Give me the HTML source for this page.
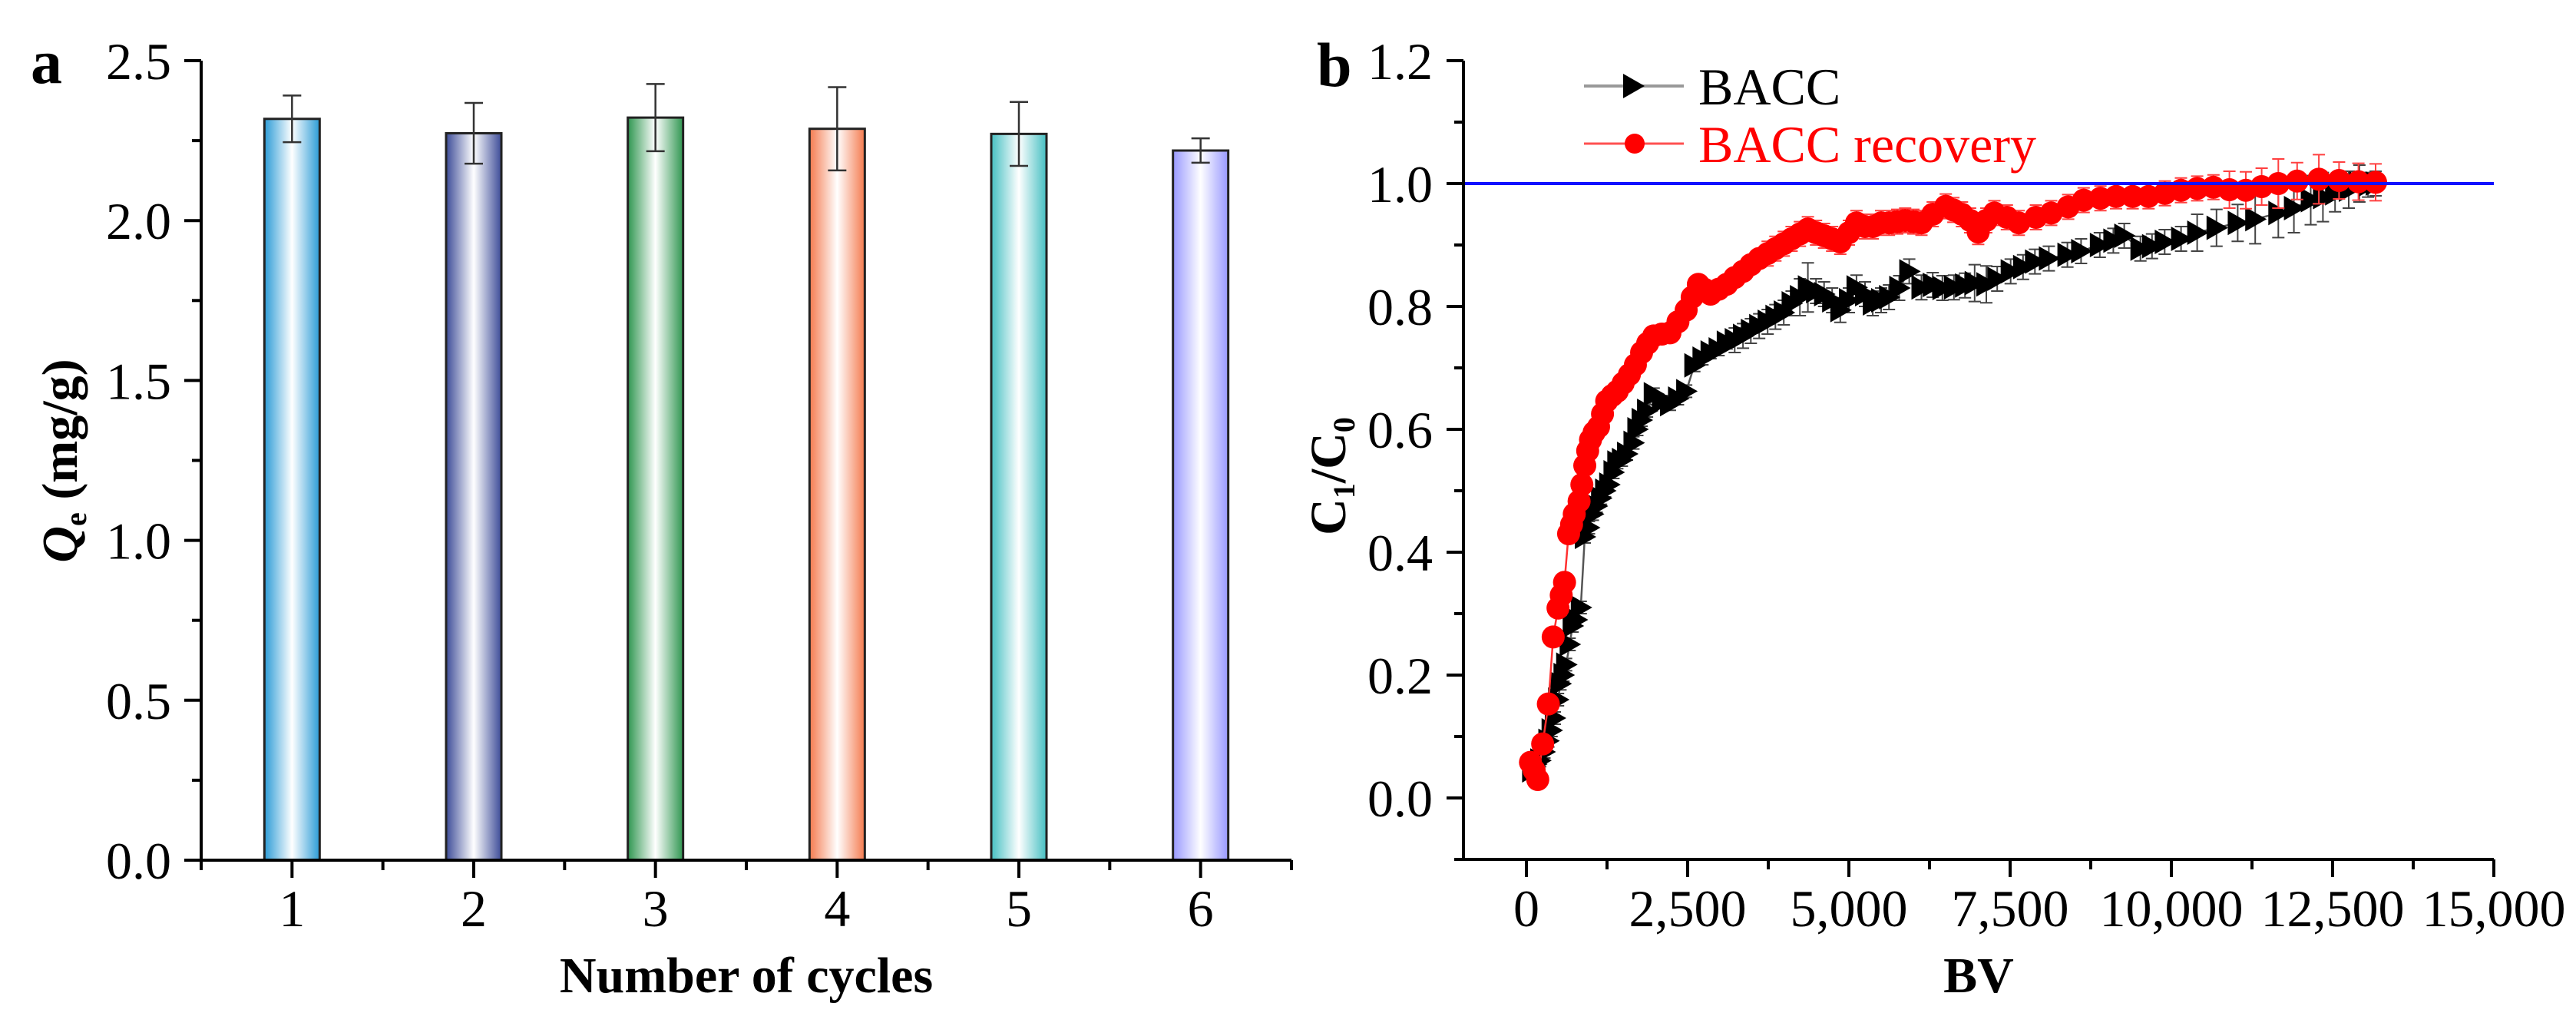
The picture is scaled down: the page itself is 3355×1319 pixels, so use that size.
<!DOCTYPE html>
<html><head><meta charset="utf-8"><style>
html,body{margin:0;padding:0;background:#fff;}
svg{display:block;font-family:"Liberation Serif",serif;}
</style></head><body>
<svg id="fig" width="3355" height="1319" viewBox="0 0 3355 1319" xmlns="http://www.w3.org/2000/svg">
<defs>
<linearGradient id="g1" x1="0" x2="1"><stop offset="0" stop-color="#2b9bd6"/><stop offset="0.5" stop-color="#fff"/><stop offset="1" stop-color="#2b9bd6"/></linearGradient>
<linearGradient id="g2" x1="0" x2="1"><stop offset="0" stop-color="#3d4c98"/><stop offset="0.5" stop-color="#fff"/><stop offset="1" stop-color="#3d4c98"/></linearGradient>
<linearGradient id="g3" x1="0" x2="1"><stop offset="0" stop-color="#2f9650"/><stop offset="0.5" stop-color="#fff"/><stop offset="1" stop-color="#2f9650"/></linearGradient>
<linearGradient id="g4" x1="0" x2="1"><stop offset="0" stop-color="#f47a4e"/><stop offset="0.5" stop-color="#fff"/><stop offset="1" stop-color="#f47a4e"/></linearGradient>
<linearGradient id="g5" x1="0" x2="1"><stop offset="0" stop-color="#45bfc2"/><stop offset="0.5" stop-color="#fff"/><stop offset="1" stop-color="#45bfc2"/></linearGradient>
<linearGradient id="g6" x1="0" x2="1"><stop offset="0" stop-color="#9898ff"/><stop offset="0.5" stop-color="#fff"/><stop offset="1" stop-color="#9898ff"/></linearGradient>
</defs>
<g id="pa"></g>
<g id="pb"></g>
</svg>
<script>
// Panel a data
const cycles = [1, 2, 3, 4, 5, 6];
const qeValues = [2.318, 2.273, 2.322, 2.287, 2.271, 2.219];
const qeErrors = [0.073, 0.095, 0.105, 0.13, 0.10, 0.038];
const aYTicks = [0.0, 0.5, 1.0, 1.5, 2.0, 2.5];
const aYTickLabels = ["0.0", "0.5", "1.0", "1.5", "2.0", "2.5"];
// Panel b data
const baccBV = [88,150,214,280,340,390,440,490,528,575,616,670,717,780,843,905,970,1031,1090,1157,1220,1283,1350,1409,1480,1560,1660,1720,1786,1870,1974,2100,2226,2350,2477,2603,2730,2855,2980,3106,3230,3358,3480,3609,3740,3861,3990,4112,4240,4364,4490,4615,4740,4867,5000,5118,5250,5370,5500,5622,5780,5936,6125,6300,6450,6628,6800,6950,7131,7300,7508,7700,7885,8100,8388,8600,8891,9100,9269,9520,9700,9897,10150,10400,10700,11029,11300,11658,11900,12161,12350,12538,12750,12916,13050,13167];
const baccC = [0.045,0.055,0.061,0.075,0.093,0.11,0.13,0.16,0.186,0.2,0.217,0.25,0.28,0.29,0.31,0.425,0.44,0.462,0.475,0.488,0.5,0.51,0.53,0.546,0.55,0.56,0.578,0.6,0.615,0.63,0.657,0.645,0.641,0.65,0.662,0.704,0.715,0.725,0.73,0.741,0.745,0.752,0.76,0.768,0.775,0.783,0.79,0.805,0.815,0.831,0.825,0.82,0.81,0.794,0.81,0.831,0.82,0.805,0.81,0.815,0.83,0.857,0.831,0.835,0.83,0.831,0.834,0.838,0.836,0.845,0.857,0.864,0.873,0.878,0.884,0.89,0.90,0.907,0.915,0.894,0.898,0.905,0.91,0.92,0.928,0.936,0.942,0.952,0.96,0.973,0.978,0.984,0.99,1.0,0.998,1.0];
const baccErr = [0.01,0.01,0.01,0.01,0.01,0.01,0.01,0.01,0.01,0.01,0.01,0.01,0.01,0.01,0.01,0.01,0.01,0.01,0.01,0.01,0.01,0.01,0.01,0.01,0.01,0.01,0.01,0.01,0.01,0.01,0.01,0.01,0.01,0.01,0.01,0.01,0.01,0.01,0.01,0.01,0.02,0.02,0.02,0.02,0.02,0.02,0.02,0.02,0.03,0.04,0.02,0.02,0.02,0.02,0.02,0.02,0.02,0.02,0.02,0.02,0.02,0.02,0.02,0.02,0.02,0.02,0.02,0.03,0.03,0.02,0.02,0.02,0.02,0.02,0.02,0.02,0.02,0.02,0.02,0.02,0.02,0.02,0.02,0.03,0.03,0.03,0.04,0.04,0.04,0.04,0.04,0.03,0.03,0.03,0.02,0.02];
const recBV = [63,120,176,252,340,415,490,540,591,654,700,742,817,860,905,950,994,1050,1119,1180,1245,1330,1409,1500,1597,1690,1786,1880,1974,2100,2226,2350,2477,2570,2666,2760,2855,2980,3106,3230,3358,3480,3609,3740,3861,3990,4112,4240,4364,4490,4615,4740,4867,5000,5118,5250,5370,5500,5622,5750,5873,6000,6125,6300,6502,6620,6754,6880,7005,7130,7256,7450,7634,7900,8137,8400,8640,8900,9143,9400,9646,9900,10149,10400,10652,10900,11155,11400,11658,11950,12287,12600,12900,13167];
const recC = [0.058,0.045,0.03,0.088,0.153,0.262,0.309,0.33,0.351,0.43,0.445,0.462,0.483,0.51,0.541,0.565,0.583,0.595,0.604,0.625,0.646,0.655,0.662,0.675,0.689,0.705,0.725,0.74,0.752,0.755,0.757,0.775,0.794,0.815,0.836,0.828,0.82,0.828,0.836,0.847,0.857,0.868,0.878,0.886,0.894,0.902,0.91,0.918,0.926,0.92,0.915,0.91,0.905,0.92,0.936,0.93,0.93,0.936,0.936,0.938,0.94,0.938,0.936,0.95,0.963,0.957,0.95,0.94,0.921,0.94,0.952,0.945,0.936,0.945,0.952,0.962,0.973,0.976,0.979,0.979,0.979,0.984,0.989,0.992,0.994,0.99,0.989,0.995,1.0,1.004,1.007,1.005,1.003,1.002];
const recErr = [0.01,0.01,0.01,0.01,0.01,0.01,0.01,0.01,0.01,0.01,0.01,0.01,0.01,0.01,0.01,0.01,0.01,0.01,0.01,0.01,0.01,0.01,0.01,0.01,0.01,0.01,0.01,0.01,0.01,0.01,0.01,0.01,0.01,0.01,0.01,0.01,0.01,0.01,0.01,0.01,0.01,0.01,0.01,0.02,0.02,0.02,0.02,0.02,0.02,0.02,0.02,0.02,0.02,0.02,0.02,0.02,0.02,0.02,0.02,0.02,0.02,0.02,0.02,0.02,0.02,0.02,0.02,0.02,0.02,0.02,0.02,0.02,0.02,0.02,0.02,0.02,0.02,0.02,0.02,0.02,0.02,0.02,0.02,0.02,0.02,0.03,0.03,0.03,0.04,0.03,0.04,0.03,0.03,0.03];
const bXTicks = [0, 2500, 5000, 7500, 10000, 12500, 15000];
const bXTickLabels = ["0", "2,500", "5,000", "7,500", "10,000", "12,500", "15,000"];
const bYTicks = [0.0, 0.2, 0.4, 0.6, 0.8, 1.0, 1.2];
const bYTickLabels = ["0.0", "0.2", "0.4", "0.6", "0.8", "1.0", "1.2"];

const NS = "http://www.w3.org/2000/svg";
function mk(parent, tag, attrs, text) {
  const e = document.createElementNS(NS, tag);
  for (const k in attrs) e.setAttribute(k, attrs[k]);
  if (text !== undefined) e.textContent = text;
  parent.appendChild(e);
  return e;
}
// ---- Panel a ----
const pa = document.getElementById('pa');
const ax = v => 262 + (v - 0.5) * (1682 - 262) / 6;
const ay = v => 1120 - v * (1120 - 79) / 2.5;
let el;
el = mk(pa, 'text', {x: 40, y: 108, 'font-size': 82, 'font-weight': 'bold'}, 'a');


const barGrads = ['g1','g2','g3','g4','g5','g6'];
cycles.forEach((c, i) => {
  const w = 72, x = ax(c) - w/2, y = ay(qeValues[i]);
  el = mk(pa, 'rect', {x: x, y: y, width: w, height: ay(0) - y, fill: 'url(#' + barGrads[i] + ')', stroke: '#222', 'stroke-width': 3});
  
  
  const e1 = ay(qeValues[i] + qeErrors[i]), e2 = ay(qeValues[i] - qeErrors[i]);
  el = mk(pa, 'path', {d: `M${ax(c)},${e1}V${e2}M${ax(c)-12},${e1}H${ax(c)+12}M${ax(c)-12},${e2}H${ax(c)+12}`, stroke: '#333', 'stroke-width': 2.5, fill: 'none'});
  
  
});
el = mk(pa, 'path', {d: `M262,79V1120H1682`, stroke: '#000', 'stroke-width': 4, fill: 'none'});


for (let v = 0; v <= 2.5001; v += 0.25) {
  const major = Math.abs(v*2 - Math.round(v*2)) < 1e-6;
  el = mk(pa, 'line', {x1: 262, x2: major ? 240 : 250, y1: ay(v), y2: ay(v), stroke: '#000', 'stroke-width': 4});
  
  
}
aYTicks.forEach((v, i) => {
  el = mk(pa, 'text', {x: 223, y: ay(v) + 24, 'font-size': 68, 'text-anchor': 'end'}, aYTickLabels[i]);
  
  
});
for (let v = 0.5; v <= 6.5001; v += 0.5) {
  const major = Math.abs(v - Math.round(v)) < 1e-6;
  el = mk(pa, 'line', {x1: ax(v), x2: ax(v), y1: 1120, y2: major ? 1143 : 1133, stroke: '#000', 'stroke-width': 4});
  
  
}
cycles.forEach(c => {
  el = mk(pa, 'text', {x: ax(c), y: 1206, 'font-size': 68, 'text-anchor': 'middle'}, String(c));
  
  
});
el = mk(pa, 'text', {x: 972, y: 1292, 'font-size': 66, 'font-weight': 'bold', 'text-anchor': 'middle'}, 'Number of cycles');


el = mk(pa, 'text', {transform: 'translate(100,600) rotate(-90)', 'font-size': 66, 'font-weight': 'bold', 'text-anchor': 'middle'});


mk(el, 'tspan', {'font-style': 'italic'}, 'Q');
mk(el, 'tspan', {'font-size': 40, dy: 12}, 'e');
mk(el, 'tspan', {dy: -12}, ' (mg/g)');

// ---- Panel b ----
const pb = document.getElementById('pb');
const bx = v => 1988 + v * (3248 - 1988) / 15000;
const by = v => 239 + (1.0 - v) * 800;
el = mk(pb, 'text', {x: 1715, y: 112, 'font-size': 82, 'font-weight': 'bold'}, 'b');


function errs(bv, c, e, color, name) {
  let d = '';
  bv.forEach((v, i) => {
    const x = bx(v), y1 = by(c[i] + e[i]), y2 = by(c[i] - e[i]);
    d += `M${x.toFixed(1)},${y1.toFixed(1)}V${y2.toFixed(1)}M${(x-8).toFixed(1)},${y1.toFixed(1)}h16M${(x-8).toFixed(1)},${y2.toFixed(1)}h16`;
  });
  el = mk(pb, 'path', {d: d, stroke: color, 'stroke-width': 2, fill: 'none'});
  
  
}
function line(bv, c, color, w, name) {
  const d = bv.map((v, i) => (i ? 'L' : 'M') + bx(v).toFixed(1) + ',' + by(c[i]).toFixed(1)).join('');
  el = mk(pb, 'path', {d: d, stroke: color, 'stroke-width': w, fill: 'none'});
  
  
}
errs(baccBV, baccC, baccErr, '#444', 'bacc-error-bars');
line(baccBV, baccC, '#555', 2.5, 'bacc-line');
baccBV.forEach((v, i) => {
  const x = bx(v), y = by(baccC[i]);
  el = mk(pb, 'path', {d: `M${x-13},${y-16}L${x+15},${y}L${x-13},${y+16}Z`, fill: '#000'});
  
  
});
errs(recBV, recC, recErr, '#ff4040', 'bacc-recovery-error-bars');
line(recBV, recC, '#ff3030', 2.5, 'bacc-recovery-line');
recBV.forEach((v, i) => {
  el = mk(pb, 'circle', {cx: bx(v), cy: by(recC[i]), r: 15, fill: '#ff0000'});
  
  
});
el = mk(pb, 'line', {x1: 1906, x2: 3248, y1: by(1.0), y2: by(1.0), stroke: '#1010ff', 'stroke-width': 4});


el = mk(pb, 'path', {d: `M1906,79V1119H3248`, stroke: '#000', 'stroke-width': 4, fill: 'none'});


for (let k = -1; k <= 12; k++) {
  const v = k / 10, major = k % 2 === 0 && k >= 0;
  el = mk(pb, 'line', {x1: 1906, x2: major ? 1884 : 1894, y1: by(v), y2: by(v), stroke: '#000', 'stroke-width': 4});
  
  
}
bYTicks.forEach((v, i) => {
  el = mk(pb, 'text', {x: 1866, y: by(v) + 24, 'font-size': 68, 'text-anchor': 'end'}, bYTickLabels[i]);
  
  
});
for (let v = 0; v <= 15000; v += 1250) {
  const major = v % 2500 === 0;
  el = mk(pb, 'line', {x1: bx(v), x2: bx(v), y1: 1119, y2: major ? 1142 : 1132, stroke: '#000', 'stroke-width': 4});
  
  
}
bXTicks.forEach((v, i) => {
  el = mk(pb, 'text', {x: bx(v), y: 1206, 'font-size': 68, 'text-anchor': 'middle'}, bXTickLabels[i]);
  
  
});
el = mk(pb, 'text', {x: 2577, y: 1292, 'font-size': 66, 'font-weight': 'bold', 'text-anchor': 'middle'}, 'BV');


el = mk(pb, 'text', {transform: 'translate(1752,620) rotate(-90)', 'font-size': 66, 'font-weight': 'bold', 'text-anchor': 'middle'});


mk(el, 'tspan', {}, 'C');
mk(el, 'tspan', {'font-size': 40, dy: 12}, '1');
mk(el, 'tspan', {dy: -12}, '/C');
mk(el, 'tspan', {'font-size': 40, dy: 12}, '0');
// legend
const lg = mk(pb, 'g', {});


el = mk(lg, 'line', {x1: 2063, x2: 2193, y1: 112, y2: 112, stroke: '#999', 'stroke-width': 4});


el = mk(lg, 'path', {d: 'M2114,96L2142,112L2114,128Z', fill: '#000'});


el = mk(lg, 'text', {x: 2212, y: 136, 'font-size': 68}, 'BACC');


el = mk(lg, 'line', {x1: 2063, x2: 2193, y1: 187, y2: 187, stroke: '#ff5050', 'stroke-width': 3});


el = mk(lg, 'circle', {cx: 2129, cy: 187, r: 13, fill: '#ff0000'});


el = mk(lg, 'text', {x: 2212, y: 211, 'font-size': 68, fill: '#ff0000'}, 'BACC recovery');


</script>
</body></html>
